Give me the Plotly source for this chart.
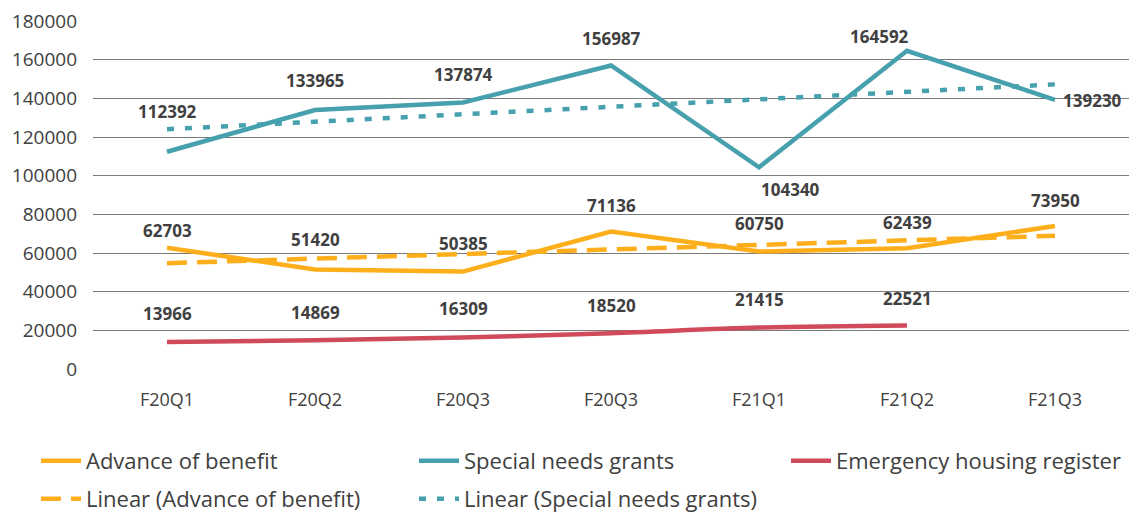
import numpy as np
import plotly.graph_objects as go

categories = ["F20Q1", "F20Q2", "F20Q3", "F20Q3", "F21Q1", "F21Q2", "F21Q3"]
advance = [62703, 51420, 50385, 71136, 60750, 62439, 73950]
special = [112392, 133965, 137874, 156987, 104340, 164592, 139230]
emergency = [13966, 14869, 16309, 18520, 21415, 22521]

x = list(range(len(categories)))
xe = x[:len(emergency)]

# linear trend lines (least squares, as in Excel)
adv_fit = np.polyfit(x, advance, 1)
spc_fit = np.polyfit(x, special, 1)
adv_trend = list(np.polyval(adv_fit, x))
spc_trend = list(np.polyval(spc_fit, x))

ORANGE = "#FDAF1B"
TEAL = "#46A0AD"
RED = "#D04A5B"
TXT = "#404040"
FONT = "Open Sans"

fig = go.Figure()
fig.add_trace(go.Scatter(x=x, y=advance, mode="lines", name="Advance of benefit",
                         line=dict(color=ORANGE, width=4.5), legend="legend"))
fig.add_trace(go.Scatter(x=x, y=special, mode="lines", name="Special needs grants",
                         line=dict(color=TEAL, width=4.5), legend="legend2"))
fig.add_trace(go.Scatter(x=xe, y=emergency, mode="lines", name="Emergency housing register",
                         line=dict(color=RED, width=4.5, shape="spline"), legend="legend3"))
fig.add_trace(go.Scatter(x=x, y=adv_trend, mode="lines", name="Linear (Advance of benefit)",
                         line=dict(color=ORANGE, width=4.5, dash="20px,10px"), legend="legend4"))
fig.add_trace(go.Scatter(x=x, y=spc_trend, mode="lines", name="Linear (Special needs grants)",
                         line=dict(color=TEAL, width=4.5, dash="7px,11px"), legend="legend5"))

# data labels: (x offset, y offset) in pixels
adv_off = [(0, 17), (0, 30), (0, 28), (0, 26), (0, 28), (0, 26), (0, 26)]
spc_off = [(0, 40), (0, 30), (0, 28), (0, 27), (31, -22), (-28, 14), (37, -1)]
emg_off = [(0, 29), (0, 28), (0, 29), (0, 28), (0, 28), (0, 27)]

for xs, ys, offs in [(x, advance, adv_off), (x, special, spc_off), (xe, emergency, emg_off)]:
    for xi, yi, (dx, dy) in zip(xs, ys, offs):
        fig.add_annotation(x=xi, y=yi, text=f"<b>{yi}</b>", showarrow=False,
                           xshift=dx, yshift=dy,
                           font=dict(family=FONT, size=17, color=TXT))

leg_common = dict(orientation="h", xref="container", yref="container",
                  xanchor="left", yanchor="middle",
                  font=dict(family=FONT, size=22, color=TXT),
                  itemwidth=40, bgcolor="rgba(0,0,0,0)")

col_x = [36, 414, 786]
row_y = [461, 499]

fig.update_layout(
    width=1132, height=512,
    margin=dict(l=93, r=3, t=21, b=143, autoexpand=False),
    paper_bgcolor="white", plot_bgcolor="white",
    font=dict(family=FONT, size=17, color=TXT),
    showlegend=True,
    legend=dict(leg_common, x=col_x[0] / 1132, y=1 - row_y[0] / 512),
    legend2=dict(leg_common, x=col_x[1] / 1132, y=1 - row_y[0] / 512),
    legend3=dict(leg_common, x=col_x[2] / 1132, y=1 - row_y[0] / 512),
    legend4=dict(leg_common, x=col_x[0] / 1132, y=1 - row_y[1] / 512),
    legend5=dict(leg_common, x=col_x[1] / 1132, y=1 - row_y[1] / 512),
)
fig.update_xaxes(range=[-0.5, 6.5], tickmode="array", tickvals=x, ticktext=categories,
                 showgrid=False, zeroline=False, showline=False, ticks="",
                 ticklabelstandoff=18, tickfont=dict(family=FONT, size=18, color=TXT))
fig.update_yaxes(range=[0, 180000], dtick=20000, showgrid=True, gridcolor="#7a7a7a",
                 gridwidth=1, zeroline=False, showline=False, ticks="",
                 ticklabelstandoff=15, tickformat="d",
                 tickfont=dict(family=FONT, size=19, color=TXT))

fig.write_html("out.html")
